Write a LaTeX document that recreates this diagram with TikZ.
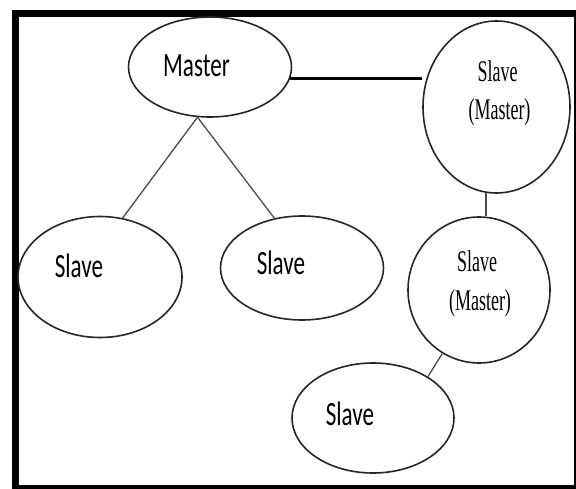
\documentclass[tikz,border=0pt]{standalone}
\usepackage{fontspec}
\setmainfont{Carlito}
\newfontfamily\serifcond{Liberation Serif}
\usetikzlibrary{shapes.geometric}
\tikzset{
  oval/.style={ellipse, draw=black!85, line width=1.6pt, inner sep=0pt},
  link/.style={draw=black!70, line width=1.3pt},
  boldlink/.style={draw=black, line width=2.6pt},
  sanslbl/.style={inner sep=0pt, anchor=base, font=\fontsize{34}{40}\selectfont},
  seriflbl/.style={inner sep=0pt, anchor=base, font=\serifcond\fontsize{30}{36}\selectfont},
}
\newcommand{\cond}[1]{\scalebox{0.68}[1]{#1}}
\newcommand{\scond}[1]{\scalebox{0.6}[1]{#1}}
\begin{document}
\begin{tikzpicture}[x=1pt,y=-1pt]
\useasboundingbox (0,0) rectangle (576,489);
% frame
\fill[black] (12,10) rectangle (576,489);
\fill[white] (19,17) rectangle (574,485);
% ellipses
\node[oval, minimum width=163pt, minimum height=100pt] (m) at (210,67) {};
\node[oval, minimum width=147pt, minimum height=172pt] (tr) at (496.5,107) {};
\node[oval, minimum width=142pt, minimum height=146pt] (mr) at (479,290) {};
\node[oval, minimum width=164pt, minimum height=121pt] (ls) at (100,277) {};
\node[oval, minimum width=163pt, minimum height=104pt] (ms) at (302,268) {};
\node[oval, minimum width=162pt, minimum height=110pt] (bs) at (373,418) {};
% labels
\node[sanslbl] (tm) at (196.5,77) {\cond{Master}};
\node[sanslbl] (tls) at (79,278) {\cond{Slave}};
\node[sanslbl] (tms) at (281,275) {\cond{Slave}};
\node[sanslbl] (tbs) at (350,425) {\cond{Slave}};
\node[seriflbl] (ttr1) at (497.5,82) {\scond{Slave}};
\node[seriflbl] (ttr2) at (499.5,120) {\scond{(Master)}};
\node[seriflbl] (tmr1) at (477,272) {\scond{Slave}};
\node[seriflbl] (tmr2) at (480,310) {\scond{(Master)}};
% connectors
\draw[link] (m.256) -- (ls.69);
\draw[link] (m.256) -- (ms.119);
\draw[boldlink] (m.-8) -- (m.-8 -| tr.west);
\draw[link] (tr.263) -- (tr.263 |- mr.north);
\draw[link] (mr.240) -- (bs.37);
\end{tikzpicture}
\end{document}
